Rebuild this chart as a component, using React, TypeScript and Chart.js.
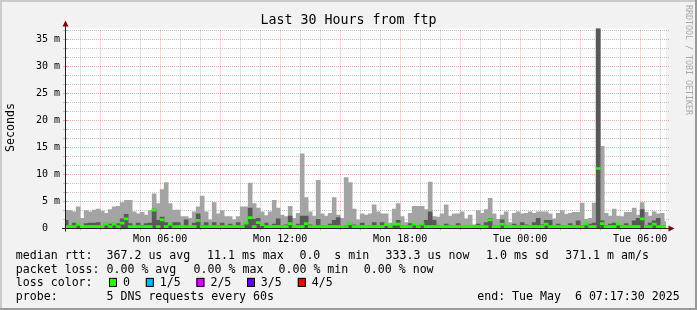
import React, { useEffect, useRef } from "react";
import { Chart, registerables } from "chart.js";

Chart.register(...registerables);

const W = 697;
const H = 310;
const FONT = '"DejaVu Sans Mono", "Liberation Mono", monospace';

// time axis in hours since Mon 00:00
const startHour = 1 + 17.5 / 60; // Mon 01:17:30
const endHour = startHour + 30; // Tue 07:17:30
const binStart = 1.2; // first 12-minute bin boundary
const binHours = 0.2; // 12 minutes

// smoke: max ping per bin (ms)
const maxRtt = [
  3.3, 3.3, 3.1, 4.0, 1.9, 3.3, 3.1, 3.4, 3.6, 3.2,
  2.8, 3.5, 4.0, 4.1, 4.8, 5.2, 5.2, 3.1, 2.7, 3.0,
  2.5, 3.3, 6.4, 4.6, 7.2, 8.5, 4.6, 3.4, 3.4, 2.2,
  2.2, 1.9, 3.1, 4.0, 6.0, 3.1, 1.6, 4.8, 2.7, 3.3,
  2.2, 2.2, 1.6, 2.2, 4.0, 4.0, 8.4, 4.6, 3.8, 3.1,
  2.4, 3.1, 5.2, 3.8, 2.5, 2.2, 4.1, 1.9, 2.8, 13.8,
  5.7, 3.1, 2.3, 8.9, 2.7, 2.3, 2.8, 5.7, 2.5, 1.9,
  9.4, 8.5, 3.6, 1.6, 2.7, 2.5, 2.7, 4.4, 3.1, 2.7,
  2.7, 1.0, 3.6, 4.6, 2.2, 1.1, 2.8, 4.1, 4.1, 4.1,
  3.5, 8.6, 2.2, 2.1, 2.7, 4.4, 2.3, 2.7, 2.7, 3.1,
  1.8, 2.5, 0.7, 3.3, 2.8, 3.5, 5.6, 2.7, 1.7, 2.5,
  3.1, 1.1, 2.8, 3.1, 2.7, 2.8, 3.1, 2.8, 3.1, 3.1,
  3.1, 2.7, 1.8, 2.8, 3.3, 2.6, 2.8, 3.0, 3.0, 4.7,
  1.7, 1.9, 4.7, 38.0, 15.2, 2.8, 2.3, 3.6, 2.3, 2.2,
  3.0, 3.0, 3.8, 2.5, 4.8, 3.0, 2.3, 3.1, 2.7, 2.8,
  1.3,
];

// smoke: inner (2nd..4th ping) top per bin (ms)
const innerRtt = [
  1.5, 0.6, 1.0, 0.5, 0.4, 0.9, 1.0, 1.0, 1.1, 0.5,
  1.0, 0.8, 1.0, 0.9, 1.8, 2.6, 0.9, 0.5, 1.0, 0.6,
  0.9, 1.0, 3.6, 1.5, 2.1, 1.1, 0.6, 1.1, 1.1, 0.5,
  1.6, 0.5, 1.0, 2.7, 0.6, 1.1, 0.5, 1.1, 0.6, 1.0,
  0.5, 0.8, 0.5, 1.1, 0.6, 1.0, 3.8, 1.7, 1.9, 0.6,
  1.0, 0.6, 0.8, 1.8, 0.6, 0.7, 2.3, 0.5, 0.8, 2.3,
  2.3, 0.7, 0.5, 1.7, 0.6, 0.5, 0.8, 1.5, 2.0, 0.5,
  0.6, 1.0, 0.7, 0.5, 1.0, 0.5, 0.6, 1.1, 0.5, 1.1,
  0.6, 0.5, 0.8, 1.5, 0.6, 0.5, 0.9, 0.6, 0.6, 0.8,
  1.5, 3.1, 1.5, 0.6, 0.5, 0.8, 0.6, 0.5, 0.9, 0.5,
  0.5, 0.5, 0.5, 0.8, 0.6, 1.1, 1.9, 0.6, 0.5, 1.6,
  0.6, 0.5, 0.8, 0.6, 1.1, 0.7, 0.6, 1.1, 1.9, 0.7,
  1.5, 1.5, 0.5, 0.8, 0.6, 0.5, 0.9, 0.6, 1.4, 0.6,
  0.5, 0.8, 1.0, 38.0, 1.4, 0.6, 0.8, 1.0, 0.5, 0.6,
  0.9, 0.6, 1.4, 1.9, 3.5, 0.6, 1.0, 1.4, 1.9, 0.6,
  0.5,
];

// median rtt per bin (ms)
const medianRtt = [
  0.35, 0.35, 0.35, 0.8, 0.35, 0.35, 0.35, 0.35, 0.35, 0.35,
  0.8, 0.35, 0.8, 0.35, 1.0, 1.8, 0.35, 0.35, 0.35, 0.35,
  0.35, 0.35, 3.4, 0.35, 1.6, 0.35, 0.8, 0.35, 0.35, 0.35,
  0.35, 0.35, 0.35, 1.5, 0.35, 0.35, 0.35, 0.35, 0.35, 0.35,
  0.35, 0.35, 0.35, 0.35, 0.35, 1.0, 2.0, 0.35, 1.1, 0.7,
  0.35, 0.35, 0.35, 0.35, 0.35, 0.35, 0.9, 0.35, 0.35, 0.35,
  0.9, 0.35, 0.35, 0.35, 0.35, 0.35, 0.35, 0.35, 0.35, 0.35,
  0.35, 0.9, 0.35, 0.35, 0.35, 0.35, 0.35, 0.35, 0.35, 0.35,
  0.7, 0.35, 0.8, 0.8, 0.35, 0.35, 0.35, 0.8, 0.35, 0.8,
  0.35, 0.35, 0.35, 0.35, 0.35, 0.35, 0.35, 0.35, 0.35, 0.35,
  0.35, 0.35, 0.35, 0.35, 0.35, 0.35, 1.6, 0.35, 0.35, 0.8,
  0.35, 0.35, 0.35, 0.35, 0.35, 0.35, 0.35, 0.35, 0.35, 0.35,
  0.8, 0.35, 0.35, 0.35, 0.35, 0.35, 0.35, 0.35, 0.35, 0.35,
  0.9, 0.35, 0.35, 11.1, 0.9, 0.35, 0.35, 0.35, 0.9, 0.35,
  0.35, 0.35, 0.35, 0.35, 1.8, 0.35, 0.35, 0.8, 0.35, 0.35,
  0.35,
];

const xTickHours = [6, 12, 18, 24, 30];
const xTickLabels = ["Mon 06:00", "Mon 12:00", "Mon 18:00", "Tue 00:00", "Tue 06:00"];
const yTickValues = [0, 5, 10, 15, 20, 25, 30, 35];
const yTickLabels = ["0  ", "5 m", "10 m", "15 m", "20 m", "25 m", "30 m", "35 m"];
const yMax = 37;
const yMinorStep = 5 / 3;

const titleText = "Last 30 Hours from ftp";
const rttStats = ["367.2 us avg", "11.1 ms max", "0.0  s min", "333.3 us now", "1.0 ms sd", "371.1 m am/s"];
const lossStats = ["0.00 % avg", "0.00 % max", "0.00 % min", "0.00 % now"];
const lossLabels = ["0", "1/5", "2/5", "3/5", "4/5"];
const lossColors = ["#26ff00", "#00b8ff", "#dd00ff", "#5e00ff", "#ff0000"];
const probeText = "5 DNS requests every 60s";
const endText = "end: Tue May  6 07:17:30 2025";
const watermark = "RRDTOOL / TOBI OETIKER";

// layout (style) constants
const rttX = [106.5, 207, 299.4, 385.6, 486, 565.2];
const lossX = [106.5, 193.6, 278.5, 363.8];
const boxX = [109, 145.8, 196.4, 247, 297.8];
const boxLabelX = [123, 159.8, 210.4, 260.7, 311.8];
const lineY = [259, 272.7, 286.4, 300];
const MEDIAN_HALF = 0.19;

const GRID = "rgba(140,140,140,0.5)";
const MGRID = "rgba(235,70,70,0.45)";
const AXIS = "#202020";
const ARROW = "#7f0000";

const binCenter = (i: number) => binStart + binHours * (i + 0.5);

const rrdPlugin = {
  id: "rrdStyle",
  beforeDraw(chart: any) {
    const { ctx, chartArea: a } = chart;
    ctx.save();
    ctx.fillStyle = "#f2f2f2";
    ctx.fillRect(0, 0, W, H);
    // 3D border
    ctx.fillStyle = "#cbcbcb";
    ctx.fillRect(0, 0, W, 2);
    ctx.fillRect(0, 0, 2, H);
    ctx.fillStyle = "#999999";
    ctx.fillRect(0, H - 2, W, 2);
    ctx.fillRect(W - 2, 0, 2, H);
    // canvas
    ctx.fillStyle = "#ffffff";
    ctx.fillRect(a.left, a.top, a.right - a.left, a.bottom - a.top);
    ctx.restore();
  },
  beforeDatasetsDraw(chart: any) {
    const { ctx, chartArea: a } = chart;
    const xs = chart.scales.x;
    const ys = chart.scales.y;
    ctx.save();
    ctx.lineWidth = 1;
    ctx.setLineDash([1, 1]);
    for (let h = Math.ceil(startHour); h <= endHour; h++) {
      const x = Math.floor(xs.getPixelForValue(h)) + 0.5;
      ctx.strokeStyle = h % 3 === 0 ? MGRID : GRID;
      ctx.beginPath();
      ctx.moveTo(x, a.bottom);
      ctx.lineTo(x, a.top);
      ctx.stroke();
    }
    for (let k = 1; k * yMinorStep <= yMax; k++) {
      const y = Math.floor(ys.getPixelForValue(k * yMinorStep)) + 0.5;
      ctx.strokeStyle = k % 3 === 0 ? MGRID : GRID;
      ctx.beginPath();
      ctx.moveTo(a.left, y);
      ctx.lineTo(a.right + 3, y);
      ctx.stroke();
    }
    ctx.restore();
  },
  afterDatasetsDraw(chart: any) {
    const { ctx, chartArea: a } = chart;
    const xs = chart.scales.x;
    const ys = chart.scales.y;
    ctx.save();
    ctx.lineWidth = 1;
    // axis ticks
    for (let h = Math.ceil(startHour); h <= endHour; h++) {
      const x = Math.floor(xs.getPixelForValue(h)) + 0.5;
      ctx.strokeStyle = h % 3 === 0 ? MGRID : GRID;
      ctx.beginPath();
      ctx.moveTo(x, a.bottom - 2);
      ctx.lineTo(x, a.bottom + 2);
      ctx.stroke();
    }
    for (let k = 1; k * yMinorStep <= yMax; k++) {
      const y = Math.floor(ys.getPixelForValue(k * yMinorStep)) + 0.5;
      ctx.strokeStyle = k % 3 === 0 ? MGRID : GRID;
      ctx.beginPath();
      ctx.moveTo(a.left - 3, y);
      ctx.lineTo(a.left + 2, y);
      ctx.stroke();
    }
    // axes
    ctx.strokeStyle = AXIS;
    const ax = a.left - 0.5;
    const ay = Math.floor(a.bottom) + 0.5;
    ctx.beginPath();
    ctx.moveTo(ax, a.bottom + 3);
    ctx.lineTo(ax, a.top - 3);
    ctx.moveTo(a.left - 4, ay);
    ctx.lineTo(a.right + 3, ay);
    ctx.stroke();
    // arrows
    ctx.fillStyle = ARROW;
    ctx.beginPath();
    ctx.moveTo(ax - 3, a.top - 2);
    ctx.lineTo(ax + 3, a.top - 2);
    ctx.lineTo(ax, a.top - 8);
    ctx.closePath();
    ctx.fill();
    ctx.beginPath();
    ctx.moveTo(a.right + 2.5, ay - 3);
    ctx.lineTo(a.right + 2.5, ay + 3);
    ctx.lineTo(a.right + 8.5, ay);
    ctx.closePath();
    ctx.fill();
    ctx.restore();
  },
  afterDraw(chart: any) {
    const { ctx } = chart;
    ctx.save();
    ctx.fillStyle = "#000";
    ctx.textBaseline = "alphabetic";
    // title
    ctx.font = `13.3px ${FONT}`;
    ctx.textAlign = "center";
    ctx.fillText(titleText, 348.5, 24);
    // y title
    ctx.font = `11.6px ${FONT}`;
    ctx.save();
    ctx.translate(14.3, 127.5);
    ctx.rotate(-Math.PI / 2);
    ctx.fillText("Seconds", 0, 0);
    ctx.restore();
    // legend
    ctx.textAlign = "left";
    ctx.fillText("median rtt:", 15.8, lineY[0]);
    rttStats.forEach((s, i) => ctx.fillText(s, rttX[i], lineY[0]));
    ctx.fillText("packet loss:", 15.8, lineY[1]);
    lossStats.forEach((s, i) => ctx.fillText(s, lossX[i], lineY[1]));
    ctx.fillText("loss color:", 15.8, lineY[2]);
    lossLabels.forEach((s, i) => {
      ctx.fillStyle = lossColors[i];
      ctx.fillRect(boxX[i], lineY[2] - 8.5, 8, 9);
      ctx.strokeStyle = "#000";
      ctx.lineWidth = 1;
      ctx.strokeRect(boxX[i] + 0.5, lineY[2] - 8, 7, 8);
      ctx.fillStyle = "#000";
      ctx.fillText(s, boxLabelX[i], lineY[2]);
    });
    ctx.fillText("probe:", 15.8, lineY[3]);
    ctx.fillText(probeText, 106.5, lineY[3]);
    ctx.fillText(endText, 477.2, lineY[3]);
    // watermark
    ctx.fillStyle = "#a8a8a8";
    ctx.font = `8.3px ${FONT}`;
    ctx.translate(685.7, 5);
    ctx.rotate(Math.PI / 2);
    ctx.fillText(watermark, 0, 0);
    ctx.restore();
  },
};

export default function App() {
  const canvasRef = useRef<HTMLCanvasElement | null>(null);

  useEffect(() => {
    const canvas = canvasRef.current;
    if (!canvas) return;
    const lightData = maxRtt.map((v, i) => ({ x: binCenter(i), y: [0, v] }));
    const darkData = innerRtt.map((v, i) => ({ x: binCenter(i), y: [0, v] }));
    const medData = medianRtt.map((v, i) => ({ x: binCenter(i), y: [v - MEDIAN_HALF, v + MEDIAN_HALF] }));

    const barCommon = {
      barPercentage: 1,
      categoryPercentage: 1,
      grouped: false,
      borderWidth: 0,
      borderSkipped: false,
    };

    const chart = new Chart(canvas, {
      type: "bar",
      data: {
        datasets: [
          { ...barCommon, label: "smoke", data: lightData as any, backgroundColor: "#a4a4a4", order: 3 },
          { ...barCommon, label: "inner", data: darkData as any, backgroundColor: "#585858", order: 2 },
          { ...barCommon, label: "median", data: medData as any, backgroundColor: "#26ff00", order: 1 },
        ],
      },
      options: {
        responsive: false,
        animation: false,
        devicePixelRatio: 1,
        layout: { padding: { left: 0, top: 28.5, right: 31, bottom: 0 } },
        plugins: {
          legend: { display: false },
          tooltip: { enabled: false },
          title: { display: false },
        },
        scales: {
          x: {
            type: "linear",
            min: startHour,
            max: endHour,
            offset: false,
            afterBuildTicks: (s: any) => {
              s.ticks = xTickHours.map((v) => ({ value: v }));
            },
            afterFit: (s: any) => {
              s.height = 81.5;
            },
            grid: { display: false, drawTicks: false, offset: false },
            border: { display: false },
            ticks: {
              autoSkip: false,
              maxRotation: 0,
              minRotation: 0,
              padding: 5,
              color: "#000",
              font: { family: FONT, size: 10 },
              callback: (_v: any, i: number) => xTickLabels[i],
            },
          },
          y: {
            type: "linear",
            min: 0,
            max: yMax,
            afterBuildTicks: (s: any) => {
              s.ticks = yTickValues.map((v) => ({ value: v }));
            },
            afterFit: (s: any) => {
              s.width = 66;
            },
            grid: { display: false, drawTicks: false },
            border: { display: false },
            ticks: {
              autoSkip: false,
              padding: 6,
              color: "#000",
              font: { family: FONT, size: 10 },
              callback: (_v: any, i: number) => yTickLabels[i],
            },
          },
        },
      } as any,
      plugins: [rrdPlugin],
    });
    return () => chart.destroy();
  }, []);

  return (
    <div style={{ position: "absolute", left: 0, top: 0, width: W, height: H }}>
      <canvas ref={canvasRef} width={W} height={H} style={{ display: "block" }} />
    </div>
  );
}
